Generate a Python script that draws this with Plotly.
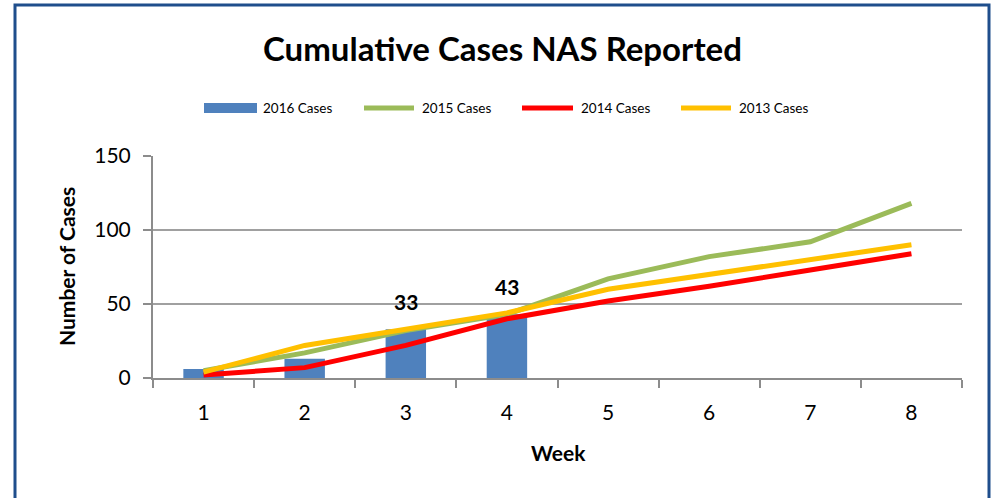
import plotly.graph_objects as go

weeks = [1, 2, 3, 4, 5, 6, 7, 8]
cases_2016 = [6, 13, 33, 43]
cases_2015 = [5, 17, 32, 43, 67, 82, 92, 118]
cases_2014 = [2, 7, 22, 40, 52, 62, 73, 84]
cases_2013 = [4, 22, 33, 44, 60, 70, 80, 90]
label_weeks = [3, 4]
label_values = [33, 43]
y_ticks = [0, 50, 100, 150]

FONT = "Lato"
BLUE = "#4F81BD"
GREEN = "#9BBB59"
RED = "#FF0000"
YELLOW = "#FFC000"
GRID = "#A0A0A0"

fig = go.Figure()
fig.add_trace(go.Bar(x=weeks[:len(cases_2016)], y=cases_2016, width=0.4,
                     marker=dict(color=BLUE, line=dict(width=0)), name="2016 Cases",
                     showlegend=False))
for vals, col, nm in [(cases_2015, GREEN, "2015 Cases"),
                      (cases_2014, RED, "2014 Cases"),
                      (cases_2013, YELLOW, "2013 Cases")]:
    fig.add_trace(go.Scatter(x=weeks, y=vals, mode="lines", name=nm,
                             line=dict(color=col, width=5), showlegend=False))

annotations = []
for w, v in zip(label_weeks, label_values):
    annotations.append(dict(x=w, y=v, xref="x", yref="y", text=f"<b>{v}</b>",
                            showarrow=False, yshift=28,
                            xanchor="center", yanchor="middle",
                            font=dict(family=FONT, size=21, color="black")))

# plot area in pixels: x 153..962, y 156..378
L, R, T, B = 153, 962, 156, 378
W, H = R - L, B - T
def px(x):
    return (x - L) / W
def py(y):
    return (B - y) / H

annotations.append(dict(xref="paper", yref="paper", x=px(502), y=py(48),
                        xanchor="center", yanchor="middle",
                        text="<b>Cumulative Cases NAS Reported</b>", showarrow=False,
                        font=dict(family=FONT, size=33, color="black")))
annotations.append(dict(xref="paper", yref="paper", x=px(66), y=py(267),
                        xanchor="center", yanchor="middle",
                        text="<b>Number of Cases</b>", showarrow=False, textangle=-90,
                        font=dict(family=FONT, size=21, color="black")))
annotations.append(dict(xref="paper", yref="paper", x=px(558), y=py(452),
                        xanchor="center", yanchor="middle",
                        text="<b>Week</b>", showarrow=False,
                        font=dict(family=FONT, size=21, color="black")))

shapes = []
# outer frame
shapes.append(dict(type="rect", xref="paper", yref="paper",
                   x0=px(15), x1=px(989), y0=py(520), y1=py(5),
                   line=dict(color="#1F4E8C", width=3), fillcolor="rgba(0,0,0,0)", layer="below"))

# manual legend
legend_items = [("2016 Cases", BLUE, "bar", 204, 257),
                ("2015 Cases", GREEN, "line", 362, 416),
                ("2014 Cases", RED, "line", 520, 575),
                ("2013 Cases", YELLOW, "line", 679, 733)]
ly = 108
for name, col, kind, x0, x1 in legend_items:
    if kind == "bar":
        shapes.append(dict(type="rect", xref="paper", yref="paper",
                           x0=px(x0), x1=px(x1), y0=py(ly + 5), y1=py(ly - 5),
                           fillcolor=col, line=dict(width=0)))
    else:
        shapes.append(dict(type="line", xref="paper", yref="paper",
                           x0=px(x0 + 2), x1=px(x1 - 2), y0=py(ly), y1=py(ly),
                           line=dict(color=col, width=5)))
    annotations.append(dict(xref="paper", yref="paper", x=px(x1 + 4), y=py(ly),
                            xanchor="left", yanchor="middle", text=name, showarrow=False,
                            font=dict(family=FONT, size=13.5, color="black")))

fig.update_layout(
    width=992, height=498,
    margin=dict(l=L, r=992 - R, t=T, b=498 - B, pad=0),
    paper_bgcolor="white", plot_bgcolor="white",
    showlegend=False,
    annotations=annotations, shapes=shapes,
    font=dict(family=FONT, color="black"),
    xaxis=dict(range=[0.5, 8.5], tickvals=weeks, ticktext=[str(w) for w in weeks],
               ticks="", showgrid=False, zeroline=False,
               showline=True, linecolor="#8C8C8C", linewidth=2,
               tickfont=dict(family=FONT, size=21, color="black"),
               ticklabelstandoff=15,
               minor=dict(tick0=0.5, dtick=1, ticks="outside", ticklen=8,
                          tickcolor="#8C8C8C", tickwidth=2, showgrid=False)),
    yaxis=dict(range=[0, 150], tickvals=y_ticks, ticks="outside", ticklen=8,
               tickcolor="#8C8C8C", tickwidth=2,
               showgrid=True, gridcolor=GRID, gridwidth=2, zeroline=False,
               showline=True, linecolor="#8C8C8C", linewidth=2,
               tickfont=dict(family=FONT, size=21, color="black"),
               ticklabelstandoff=8),
)

fig.write_html("out.html", config={"displayModeBar": False},
               post_script="document.body.style.margin='0';")
